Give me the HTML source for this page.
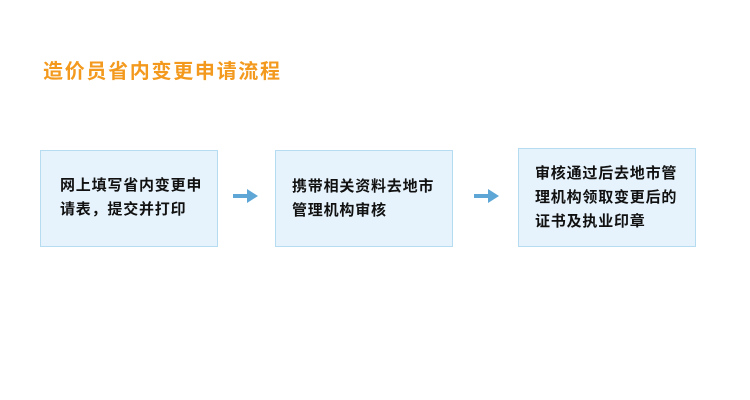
<!DOCTYPE html>
<html><head><meta charset="utf-8"><style>
body{margin:0;width:750px;height:400px;background:#fff;position:relative;overflow:hidden;font-family:"Liberation Sans","Noto Sans CJK SC",sans-serif;}
.t{position:absolute;left:43px;top:60px;font-size:20px;font-weight:bold;color:#f39a1e;line-height:24px;letter-spacing:1.7px;}
.b{position:absolute;background:#e6f3fc;border:1px solid #b6dcf2;box-sizing:border-box;}
.b p{position:absolute;margin:0;font-size:15px;font-weight:bold;color:#111;line-height:24px;letter-spacing:0.8px;}
.a{position:absolute;}
</style></head><body>
<div class="t">造价员省内变更申请流程</div>
<div class="b" style="left:40px;top:150px;width:178px;height:97px"><p style="left:19px;top:23px;width:158px">网上填写省内变更申<br>请表，提交并打印</p></div>
<div class="b" style="left:275px;top:150px;width:178px;height:97px"><p style="left:16px;top:24px;width:158px">携带相关资料去地市<br>管理机构审核</p></div>
<div class="b" style="left:518px;top:148px;width:178px;height:99px"><p style="left:16px;top:13px;width:162px">审核通过后去地市管<br>理机构领取变更后的<br>证书及执业印章</p></div>
<svg class="a" style="left:232px;top:187px" width="28" height="18"><path d="M1 7h14V2l11 7-11 7v-5H1z" fill="#5ea6d6"/></svg>
<svg class="a" style="left:473px;top:187px" width="28" height="18"><path d="M1 7h14V2l11 7-11 7v-5H1z" fill="#5ea6d6"/></svg>
</body></html>
